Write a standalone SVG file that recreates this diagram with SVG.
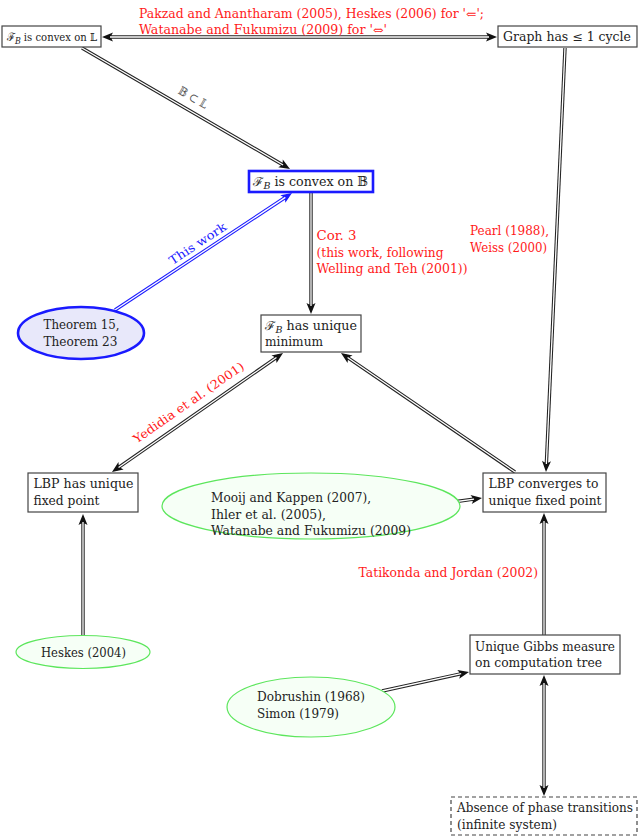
<svg xmlns="http://www.w3.org/2000/svg" width="640" height="837" viewBox="0 0 640 837">
<style>
text{font-family:"DejaVu Serif","Liberation Serif",serif;font-size:12px;fill:#222}
.red{fill:#ff1a1a}
.blue{fill:#1a1aff}
.gray{fill:#555}
.box{fill:#fff;stroke:#444;stroke-width:1.2}
.ob{fill:none;stroke:#222;stroke-width:3.4}
.obl{fill:none;stroke:#1a1aff;stroke-width:3.4}
.in{fill:none;stroke:#fff;stroke-width:1.3}
.green{fill:#f6fff6;stroke:#5ce65c;stroke-width:1.2}
.sub{font-size:9px;font-style:italic}
</style>
<defs>
<marker id="ah" markerUnits="userSpaceOnUse" viewBox="-8 -6 14 12" markerWidth="14" markerHeight="12" refX="0" refY="0" orient="auto-start-reverse">
<path d="M5,0 L-6,-4.5 Q-2.5,0 -6,4.5 Z" fill="#111"/>
</marker>
<marker id="ahb" markerUnits="userSpaceOnUse" viewBox="-8 -6 14 12" markerWidth="14" markerHeight="12" refX="0" refY="0" orient="auto-start-reverse">
<path d="M5,0 L-6,-4.5 Q-2.5,0 -6,4.5 Z" fill="#1a1aff"/>
</marker>
</defs>
<rect width="640" height="837" fill="#fff"/>

<g id="connectors">
<line class="ob" x1="107" y1="37" x2="492" y2="37" marker-start="url(#ah)" marker-end="url(#ah)"/>
<line class="in" x1="110" y1="37" x2="489" y2="37"/>
<line class="ob" x1="82" y1="48" x2="285.68" y2="166.49" marker-end="url(#ah)"/>
<line class="in" x1="82" y1="48" x2="283.08" y2="164.98"/>
<text class="gray" transform="translate(191,101) rotate(30.2)" text-anchor="middle" textLength="32" lengthAdjust="spacingAndGlyphs">𝔹 ⊂ 𝕃</text>
<line class="ob" x1="311" y1="193" x2="311" y2="309" marker-end="url(#ah)"/>
<line class="in" x1="311" y1="193" x2="311" y2="306"/>
<line class="obl" x1="115" y1="310" x2="287.83" y2="195.76" marker-end="url(#ahb)"/>
<line class="in" x1="115" y1="310" x2="285.33" y2="197.41"/>
<text class="blue" transform="translate(200,247) rotate(-33.5)" text-anchor="middle" textLength="66" lengthAdjust="spacingAndGlyphs">This work</text>
<line class="ob" x1="565" y1="48" x2="546.22" y2="467" marker-end="url(#ah)"/>
<line class="in" x1="565" y1="48" x2="546.36" y2="464"/>
<line class="ob" x1="515" y1="472" x2="345.13" y2="355.82" marker-end="url(#ah)"/>
<line class="in" x1="515" y1="472" x2="347.6" y2="357.52"/>
<line class="ob" x1="278.9" y1="355.86" x2="116.1" y2="469.14" marker-start="url(#ah)" marker-end="url(#ah)"/>
<line class="in" x1="276.43" y1="357.57" x2="118.57" y2="467.43"/>
<text class="red" transform="translate(191,406) rotate(-34.8)" text-anchor="middle" textLength="132" lengthAdjust="spacingAndGlyphs">Yedidia et al. (2001)</text>
<line class="ob" x1="453" y1="502" x2="477.05" y2="498.68" marker-end="url(#ah)"/>
<line class="in" x1="453" y1="502" x2="474.07" y2="499.09"/>
<line class="ob" x1="83" y1="635" x2="83" y2="519" marker-end="url(#ah)"/>
<line class="in" x1="83" y1="635" x2="83" y2="522"/>
<line class="ob" x1="544" y1="635" x2="544" y2="518" marker-end="url(#ah)"/>
<line class="in" x1="544" y1="635" x2="544" y2="521"/>
<line class="ob" x1="382" y1="691" x2="464.12" y2="673.07" marker-end="url(#ah)"/>
<line class="in" x1="382" y1="691" x2="461.18" y2="673.71"/>
<line class="ob" x1="544" y1="680" x2="544" y2="791" marker-start="url(#ah)" marker-end="url(#ah)"/>
<line class="in" x1="544" y1="683" x2="544" y2="788"/>
<text class="red" x="139" y="18" textLength="345" lengthAdjust="spacingAndGlyphs">Pakzad and Anantharam (2005), Heskes (2006) for '⇐';</text>
<text class="red" x="139" y="34" textLength="248" lengthAdjust="spacingAndGlyphs">Watanabe and Fukumizu (2009) for '⇔'</text>
<text class="red" x="316.5" y="240" textLength="40" lengthAdjust="spacingAndGlyphs">Cor. 3</text>
<text class="red" x="316.5" y="256.5" textLength="127" lengthAdjust="spacingAndGlyphs">(this work, following</text>
<text class="red" x="316.5" y="273" textLength="151" lengthAdjust="spacingAndGlyphs">Welling and Teh (2001))</text>
<text class="red" x="470" y="235" textLength="79" lengthAdjust="spacingAndGlyphs">Pearl (1988),</text>
<text class="red" x="470" y="251.5" textLength="77" lengthAdjust="spacingAndGlyphs">Weiss (2000)</text>
<text class="red" x="358.5" y="577" textLength="179.5" lengthAdjust="spacingAndGlyphs">Tatikonda and Jordan (2002)</text>
</g>

<g id="convexL">
<rect class="box" x="2" y="26" width="99" height="21"/>
<text x="7" y="41" style="font-size:11.5px" textLength="90" lengthAdjust="spacingAndGlyphs">ℱ<tspan class="sub" dy="3">B</tspan><tspan dy="-3"> is convex on 𝕃</tspan></text>
</g>

<g id="graph">
<rect class="box" x="498" y="26" width="139" height="21"/>
<text x="503" y="41" textLength="128" lengthAdjust="spacingAndGlyphs">Graph has ≤ 1 cycle</text>
</g>

<g id="convexB">
<rect x="249" y="171" width="124" height="21" fill="#fff" stroke="#1a1aff" stroke-width="2.6"/>
<text x="253" y="186" textLength="115" lengthAdjust="spacingAndGlyphs">ℱ<tspan class="sub" dy="3">B</tspan><tspan dy="-3"> is convex on 𝔹</tspan></text>
</g>

<g id="minimum">
<rect class="box" x="261" y="315" width="100" height="37"/>
<text x="265" y="330" textLength="92" lengthAdjust="spacingAndGlyphs">ℱ<tspan class="sub" dy="3">B</tspan><tspan dy="-3"> has unique</tspan></text>
<text x="265" y="346" textLength="58" lengthAdjust="spacingAndGlyphs">minimum</text>
</g>

<g id="theorem">
<ellipse cx="81" cy="333" rx="63" ry="26" fill="#e8e8fa" stroke="#1a1aff" stroke-width="2.6"/>
<text x="43.5" y="329" textLength="76" lengthAdjust="spacingAndGlyphs">Theorem 15,</text>
<text x="43.5" y="346" textLength="74" lengthAdjust="spacingAndGlyphs">Theorem 23</text>
</g>

<g id="lbpUnique">
<rect class="box" x="28" y="473" width="110" height="39"/>
<text x="33.5" y="488" textLength="100" lengthAdjust="spacingAndGlyphs">LBP has unique</text>
<text x="33.5" y="505" textLength="66" lengthAdjust="spacingAndGlyphs">fixed point</text>
</g>

<g id="mooij">
<ellipse class="green" cx="311" cy="506" rx="149" ry="33"/>
<text x="211" y="502" textLength="160" lengthAdjust="spacingAndGlyphs">Mooij and Kappen (2007),</text>
<text x="211" y="519" textLength="115" lengthAdjust="spacingAndGlyphs">Ihler et al. (2005),</text>
<text x="211" y="535" textLength="200" lengthAdjust="spacingAndGlyphs">Watanabe and Fukumizu (2009)</text>
</g>

<g id="lbpConverges">
<rect class="box" x="483" y="473" width="123" height="39"/>
<text x="488.5" y="488" textLength="110" lengthAdjust="spacingAndGlyphs">LBP converges to</text>
<text x="488.5" y="505" textLength="113" lengthAdjust="spacingAndGlyphs">unique fixed point</text>
</g>

<g id="heskes">
<ellipse class="green" cx="83" cy="652" rx="67" ry="16.5"/>
<text x="41" y="657" textLength="85" lengthAdjust="spacingAndGlyphs">Heskes (2004)</text>
</g>

<g id="gibbs">
<rect class="box" x="470" y="635" width="150" height="39"/>
<text x="475" y="651" textLength="140" lengthAdjust="spacingAndGlyphs">Unique Gibbs measure</text>
<text x="475" y="667" textLength="127" lengthAdjust="spacingAndGlyphs">on computation tree</text>
</g>

<g id="dobrushin">
<ellipse class="green" cx="311" cy="707" rx="84" ry="30"/>
<text x="257" y="701" textLength="108" lengthAdjust="spacingAndGlyphs">Dobrushin (1968)</text>
<text x="257" y="718" textLength="82" lengthAdjust="spacingAndGlyphs">Simon (1979)</text>
</g>

<g id="absence">
<rect x="451" y="797" width="186" height="38" fill="#fff" stroke="#444" stroke-width="1.2" stroke-dasharray="4,3"/>
<text x="457" y="812" textLength="176" lengthAdjust="spacingAndGlyphs">Absence of phase transitions</text>
<text x="457" y="829" textLength="100" lengthAdjust="spacingAndGlyphs">(infinite system)</text>
</g>
</svg>
